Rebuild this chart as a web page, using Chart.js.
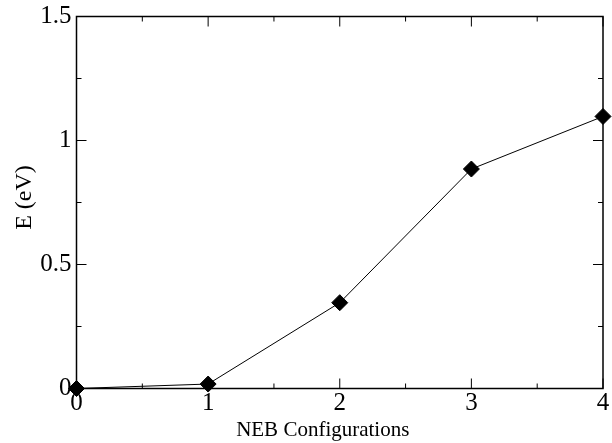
<!DOCTYPE html>
<html>
<head>
<meta charset="utf-8">
<script src="https://cdn.jsdelivr.net/npm/chart.js@4.4.1/dist/chart.umd.min.js"></script>
<style>
  html, body { margin: 0; padding: 0; background: #fff; }
  #wrap { width: 612px; height: 443px; }
</style>
</head>
<body>
<div id="wrap"><canvas id="nebChart" width="612" height="443"></canvas></div>
<script>
// NEB path: image index vs. energy relative to the first image
const configs = [0, 1, 2, 3, 4];
const energies = [0, 0.018, 0.346, 0.885, 1.097];

const xMajor = [0, 1, 2, 3, 4];
const xMinor = [0.5, 1.5, 2.5, 3.5];
const yMajor = [0, 0.5, 1, 1.5];
const yMinor = [0.25, 0.75, 1.25];

const xTitle = 'NEB Configurations';
const yTitle = 'E (eV)';

const serif = '"Liberation Serif", "DejaVu Serif", serif';

// box around the plot with inward tick marks on all four sides
const frameTicks = {
    id: 'frameTicks',
    beforeDatasetsDraw(chart) {
        const { ctx, chartArea: a, scales } = chart;
        const xs = scales.x, ys = scales.y;
        ctx.save();
        ctx.strokeStyle = '#000';
        ctx.lineWidth = 1.5;
        ctx.strokeRect(a.left, a.top, a.right - a.left, a.bottom - a.top);

        ctx.lineWidth = 1;
        ctx.beginPath();
        const xTick = (v, len) => {
            const px = xs.getPixelForValue(v);
            ctx.moveTo(px, a.bottom); ctx.lineTo(px, a.bottom - len);
            ctx.moveTo(px, a.top); ctx.lineTo(px, a.top + len);
        };
        const yTick = (v, len) => {
            const py = ys.getPixelForValue(v);
            ctx.moveTo(a.left, py); ctx.lineTo(a.left + len, py);
            ctx.moveTo(a.right, py); ctx.lineTo(a.right - len, py);
        };
        xMajor.forEach(v => xTick(v, 10));
        xMinor.forEach(v => xTick(v, 5));
        yMajor.forEach(v => yTick(v, 10));
        yMinor.forEach(v => yTick(v, 5));
        ctx.stroke();
        ctx.restore();
    }
};

// axis titles, placed by hand (x title sits a bit left of centre)
const axisTitles = {
    id: 'axisTitles',
    afterDraw(chart) {
        const { ctx, chartArea: a } = chart;
        ctx.save();
        ctx.fillStyle = '#000';
        ctx.textAlign = 'center';
        ctx.textBaseline = 'alphabetic';

        ctx.font = '21px ' + serif;
        ctx.fillText(xTitle, (a.left + a.right) / 2 - 17, chart.height - 7);

        ctx.font = '24px ' + serif;
        ctx.translate(31, (a.top + a.bottom) / 2 - 5);
        ctx.rotate(-Math.PI / 2);
        ctx.fillText(yTitle, 0, 0);
        ctx.restore();
    }
};

const ctx = document.getElementById('nebChart').getContext('2d');

const nebChart = new Chart(ctx, {
    type: 'line',
    data: {
        datasets: [{
            data: configs.map((c, i) => ({ x: c, y: energies[i] })),
            borderColor: '#000',
            borderWidth: 1,
            backgroundColor: '#000',
            pointStyle: 'rectRot',
            pointRadius: 8,
            pointBackgroundColor: '#000',
            pointBorderColor: '#000',
            pointBorderWidth: 1,
            tension: 0,
            fill: false,
            clip: false
        }]
    },
    options: {
        responsive: false,
        animation: false,
        layout: {
            padding: { top: 16.5, right: 4.5, left: 0, bottom: 0 }
        },
        plugins: {
            legend: { display: false },
            tooltip: { enabled: false }
        },
        scales: {
            x: {
                type: 'linear',
                min: 0,
                max: 4,
                grid: { display: false, drawTicks: false },
                border: { display: false },
                ticks: {
                    stepSize: 1,
                    padding: 0,
                    color: '#000',
                    font: { family: serif, size: 25 }
                },
                afterFit(scale) {
                    scale.height = 54.5;
                    scale.paddingLeft = 0;
                    scale.paddingRight = 0;
                }
            },
            y: {
                min: 0,
                max: 1.5,
                grid: { display: false, drawTicks: false },
                border: { display: false },
                ticks: {
                    stepSize: 0.5,
                    padding: 5,
                    color: '#000',
                    font: { family: serif, size: 25 },
                    callback: v => String(v)
                },
                afterFit(scale) {
                    scale.width = 76.5;
                    scale.paddingTop = 0;
                    scale.paddingBottom = 0;
                }
            }
        }
    },
    plugins: [frameTicks, axisTitles]
});
</script>
</body>
</html>
